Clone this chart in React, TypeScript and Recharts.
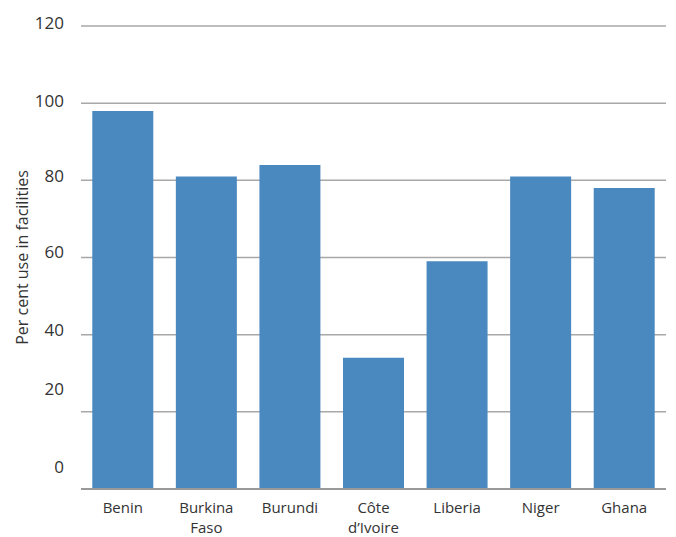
import { BarChart, Bar, XAxis, YAxis, CartesianGrid } from 'recharts';

const countries = ['Benin', 'Burkina\nFaso', 'Burundi', 'Côte\nd’Ivoire', 'Liberia', 'Niger', 'Ghana'];
const useInFacilities = [98, 81, 84, 34, 59, 81, 78];
const yTicks = [0, 20, 40, 60, 80, 100, 120];

const data = countries.map((name, i) => ({ name, value: useInFacilities[i] }));

const FONT = '"Open Sans", sans-serif';
const TEXT = '#333333';

// the source puts its tick labels a little above each gridline, and the lowest two much higher
const labelLift: Record<number, number> = { 0: 23, 20: 23, 40: 5, 60: 6, 80: 5, 100: 3, 120: 4 };

function YTick({ x, y, payload }: any) {
  const lift = labelLift[payload.value] ?? 4;
  return (
    <text x={x - 9} y={y - lift} textAnchor="end" dominantBaseline="central" fontSize={17} fill={TEXT} fontFamily={FONT}>
      {payload.value}
    </text>
  );
}

function XTick({ x, y, payload }: any) {
  const lines = String(payload.value).split('\n');
  return (
    <text x={x} y={y} textAnchor="middle" fontSize={15} fill={TEXT} fontFamily={FONT}>
      {lines.map((line, i) => (
        <tspan key={i} x={x} dy={i === 0 ? 15.5 : 20.5}>
          {line}
        </tspan>
      ))}
    </text>
  );
}

export default function App() {
  return (
    <div style={{ position: 'absolute', left: 0, top: 0, background: '#fff' }}>
      <BarChart
        width={676}
        height={537}
        data={data}
        margin={{ top: 26, right: 10, bottom: 0, left: 0 }}
        barCategoryGap="13.5%"
      >
        <CartesianGrid vertical={false} stroke="#a8a8a8" strokeWidth={1.5} />
        <XAxis
          dataKey="name"
          height={48}
          tickLine={false}
          axisLine={{ stroke: '#999999', strokeWidth: 2 }}
          tick={<XTick />}
          interval={0}
        />
        <YAxis
          width={81}
          domain={[0, 120]}
          ticks={yTicks}
          axisLine={false}
          tickLine={false}
          tick={<YTick />}
          label={{
            content: ({ viewBox }: any) => (
              <text
                x={22}
                y={viewBox.y + viewBox.height / 2}
                transform={`rotate(-90, 22, ${viewBox.y + viewBox.height / 2})`}
                textAnchor="middle"
                dominantBaseline="central"
                fontSize={16}
                fill={TEXT}
                fontFamily={FONT}
              >
                Per cent use in facilities
              </text>
            ),
          }}
        />
        <Bar dataKey="value" fill="#4a89bf" isAnimationActive={false} />
      </BarChart>
    </div>
  );
}
